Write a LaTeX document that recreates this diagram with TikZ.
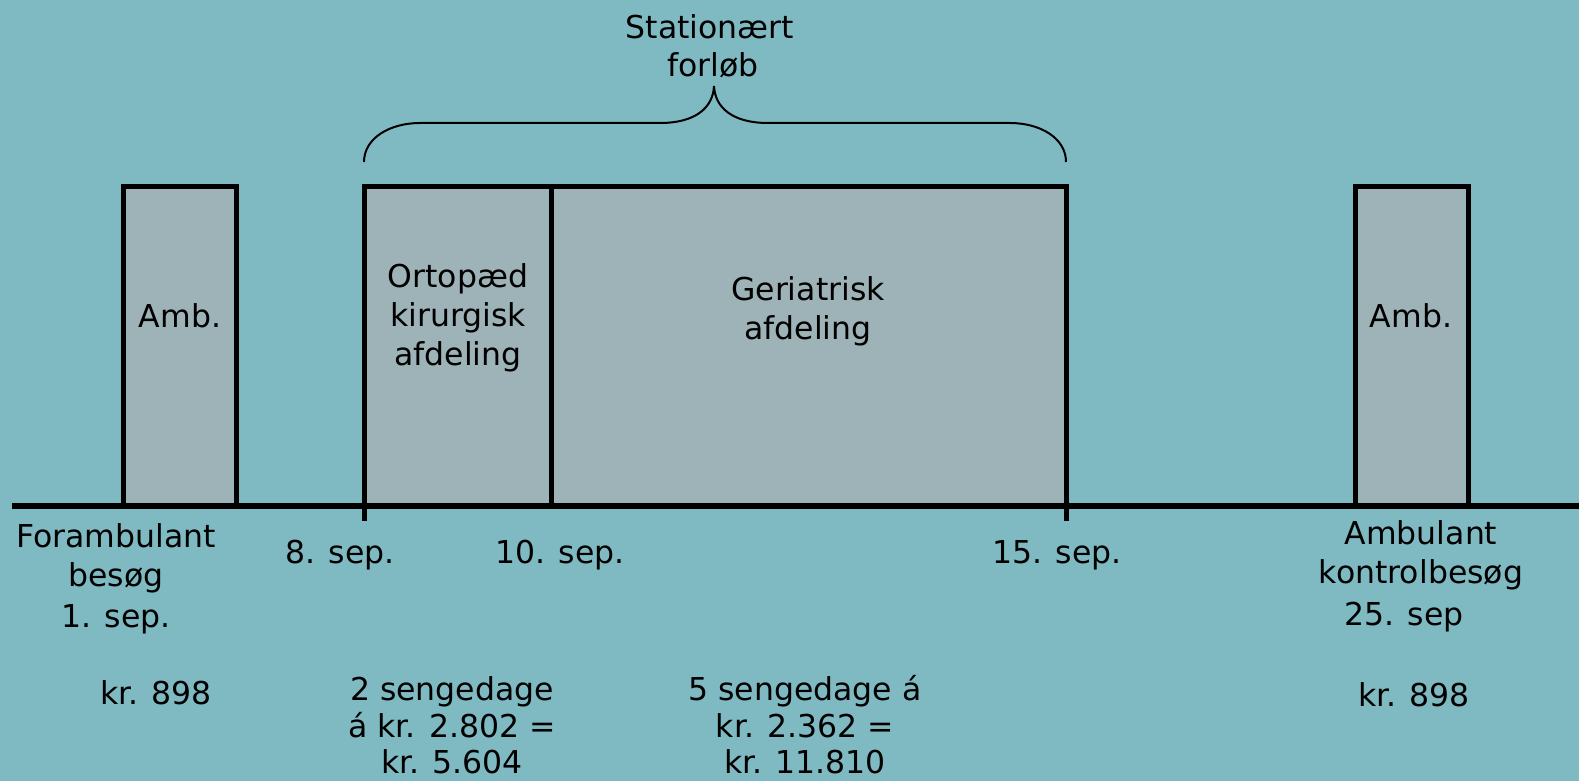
\documentclass[tikz,border=0pt]{standalone}
\usepackage{fontspec}
\setmainfont{DejaVu Sans}
\definecolor{bgteal}{RGB}{127,186,194}
\definecolor{boxfill}{RGB}{158,179,183}
\begin{document}
\begin{tikzpicture}[x=1pt,y=-1pt,
  lbl/.style={anchor=base,inner sep=0pt,font=\fontsize{31.5}{39}\selectfont},
  barbox/.style={draw=black,line width=5pt,fill=boxfill,anchor=north west,inner sep=0pt,outer sep=0pt},
  axisline/.style={line width=5.5pt},
  tickline/.style={line width=5pt},
  bracel/.style={line width=2pt}]
\fill[bgteal] (0,0) rectangle (1579,781);
\useasboundingbox (0,0) rectangle (1579,781);
% boxes
\node[barbox,minimum width=113pt,minimum height=320pt] (amb1) at (123,186) {};
\node[barbox,minimum width=187pt,minimum height=320pt] (orto) at (364,186) {};
\node[barbox,minimum width=515pt,minimum height=320pt] (geri) at (551,186) {};
\node[barbox,minimum width=113pt,minimum height=320pt] (amb2) at (1355,186) {};
% axis
\coordinate (axL) at (12,506);
\coordinate (axR) at (1579,506);
\draw[axisline] (axL) -- (axR);
\coordinate (t1) at (364,521);
\coordinate (t2) at (1066,521);
\draw[tickline] (orto.south west) -- (t1);
\draw[tickline] (geri.south east) -- (t2);
% brace
\coordinate (brL) at (364,162);
\coordinate (brTip) at (714,86);
\coordinate (brR) at (1066,162);
\draw[bracel] (brL) .. controls (364,138) and (390,123) .. (420,123) -- (660,123)
  .. controls (695,123) and (713,108) .. (brTip)
  .. controls (715,108) and (733,123) .. (768,123) -- (1010,123)
  .. controls (1040,123) and (1066,138) .. (brR);
% texts
\node[lbl] (st1) at (710,39) {Stationært};
\node[lbl] (st2) at (713,77) {forløb};
\node[lbl] (a1) at (180,327) {Amb.};
\node[lbl] (a2) at (1411,327) {Amb.};
\node[lbl] (o1) at (458,287) {Ortopæd};
\node[lbl] (o2) at (458,326) {kirurgisk};
\node[lbl] (o3) at (458,365) {afdeling};
\node[lbl] (g1) at (808,300) {Geriatrisk};
\node[lbl] (g2) at (808,339) {afdeling};
\node[lbl] (f1) at (116,547) {Forambulant};
\node[lbl] (f2) at (116,586) {besøg};
\node[lbl] (f3) at (116,627) {1. sep.};
\node[lbl] (d8) at (340,563) {8. sep.};
\node[lbl] (d10) at (560,563) {10. sep.};
\node[lbl] (d15) at (1057,563) {15. sep.};
\node[lbl] (k1) at (1421,544) {Ambulant};
\node[lbl] (k2) at (1421,583) {kontrolbesøg};
\node[lbl] (k3) at (1404,625) {25. sep};
\node[lbl] (p1) at (156,704) {kr. 898};
\node[lbl] (p2) at (1414,706) {kr. 898};
\node[lbl] (s1) at (452,700) {2 sengedage};
\node[lbl] (s2) at (452,737) {á kr. 2.802 =};
\node[lbl] (s3) at (452,773) {kr. 5.604};
\node[lbl] (r1) at (805,700) {5 sengedage á};
\node[lbl] (r2) at (805,737) {kr. 2.362 =};
\node[lbl] (r3) at (805,773) {kr. 11.810};
\end{tikzpicture}
\end{document}
